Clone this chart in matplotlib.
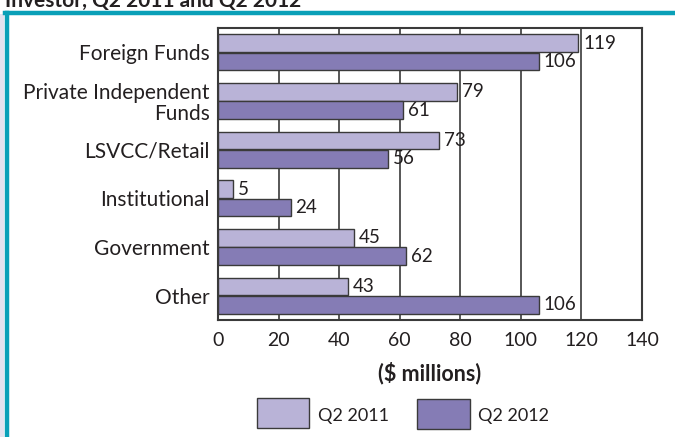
import matplotlib
matplotlib.use("Agg")
import matplotlib.pyplot as plt
import numpy as np
from matplotlib.patches import Rectangle
from matplotlib.lines import Line2D

categories = ["Foreign Funds", "Private Independent\nFunds", "LSVCC/Retail",
              "Institutional", "Government", "Other"]
q2_2011 = [119, 79, 73, 5, 45, 43]
q2_2012 = [106, 61, 56, 24, 62, 106]
xticks = [0, 20, 40, 60, 80, 100, 120, 140]

light = "#b9b3d7"
dark = "#857cb5"
edge = "#3a3a3a"
teal = "#0aa0b8"
txt = "#231f20"

plt.rcParams['font.family'] = ['Lato', 'DejaVu Sans']

fig = plt.figure(figsize=(6.75, 4.37), dpi=100)
W, H = 675, 437

# frame decorations
fig.add_artist(Rectangle((0, 0), 4/W, 1 - 14/H, transform=fig.transFigure,
                         facecolor="#e4e2ef", edgecolor="none"))
fig.add_artist(Line2D([6.5/W, 6.5/W], [0, 1 - 13/H], transform=fig.transFigure,
                      color=teal, lw=3.2))
fig.add_artist(Line2D([5/W, 1], [1 - 13/H, 1 - 13/H], transform=fig.transFigure,
                      color=teal, lw=3.2))
fig.text(5/W, 1 - 7/H, "Investor, Q2 2011 and Q2 2012", fontsize=15,
         fontweight="bold", color=txt, va="baseline", ha="left")

ax = fig.add_axes([218/W, 1 - 320/H, (642 - 218)/W, (320 - 28)/H])
n = len(categories)
y = np.arange(n)
h = 0.36
off = 0.19
ax.barh(y - off, q2_2011, height=h, color=light, edgecolor=edge, lw=1.0, zorder=3)
ax.barh(y + off, q2_2012, height=h, color=dark, edgecolor=edge, lw=1.0, zorder=3)

for yy, v in zip(y - off, q2_2011):
    ax.text(v + 1.6, yy, str(v), va="center", ha="left", fontsize=13.5, color=txt)
for yy, v in zip(y + off, q2_2012):
    ax.text(v + 1.6, yy, str(v), va="center", ha="left", fontsize=13.5, color=txt)

ax.set_xlim(0, 140)
ax.set_ylim(n - 0.5, -0.5)
ax.set_xticks(xticks)
ax.set_xticklabels([str(t) for t in xticks], fontsize=14, color=txt)
ax.set_yticks(y)
ax.set_yticklabels(categories, fontsize=15, color=txt, linespacing=1.05)
ax.tick_params(axis="y", length=8, direction="in", width=2, pad=6, color=edge)
ax.tick_params(axis="x", length=0, pad=9)
for t in xticks[1:-1]:
    ax.axvline(t, color=edge, lw=1.2, zorder=1)
for s in ax.spines.values():
    s.set_color(edge)
    s.set_linewidth(1.5)
ax.set_xlabel("($ millions)", fontsize=15.5, fontweight="bold", color=txt, labelpad=9)

# legend
fig.add_artist(Rectangle((257/W, 1 - 428/H), 52/W, 30/H, transform=fig.transFigure,
                         facecolor=light, edgecolor=edge, lw=1.0))
fig.text(318/W, 1 - 416/H, "Q2 2011", fontsize=13, color=txt, va="center")
fig.add_artist(Rectangle((417/W, 1 - 429/H), 53/W, 30/H, transform=fig.transFigure,
                         facecolor=dark, edgecolor=edge, lw=1.0))
fig.text(478/W, 1 - 416/H, "Q2 2012", fontsize=13, color=txt, va="center")

fig.savefig("out.png", dpi=100)
